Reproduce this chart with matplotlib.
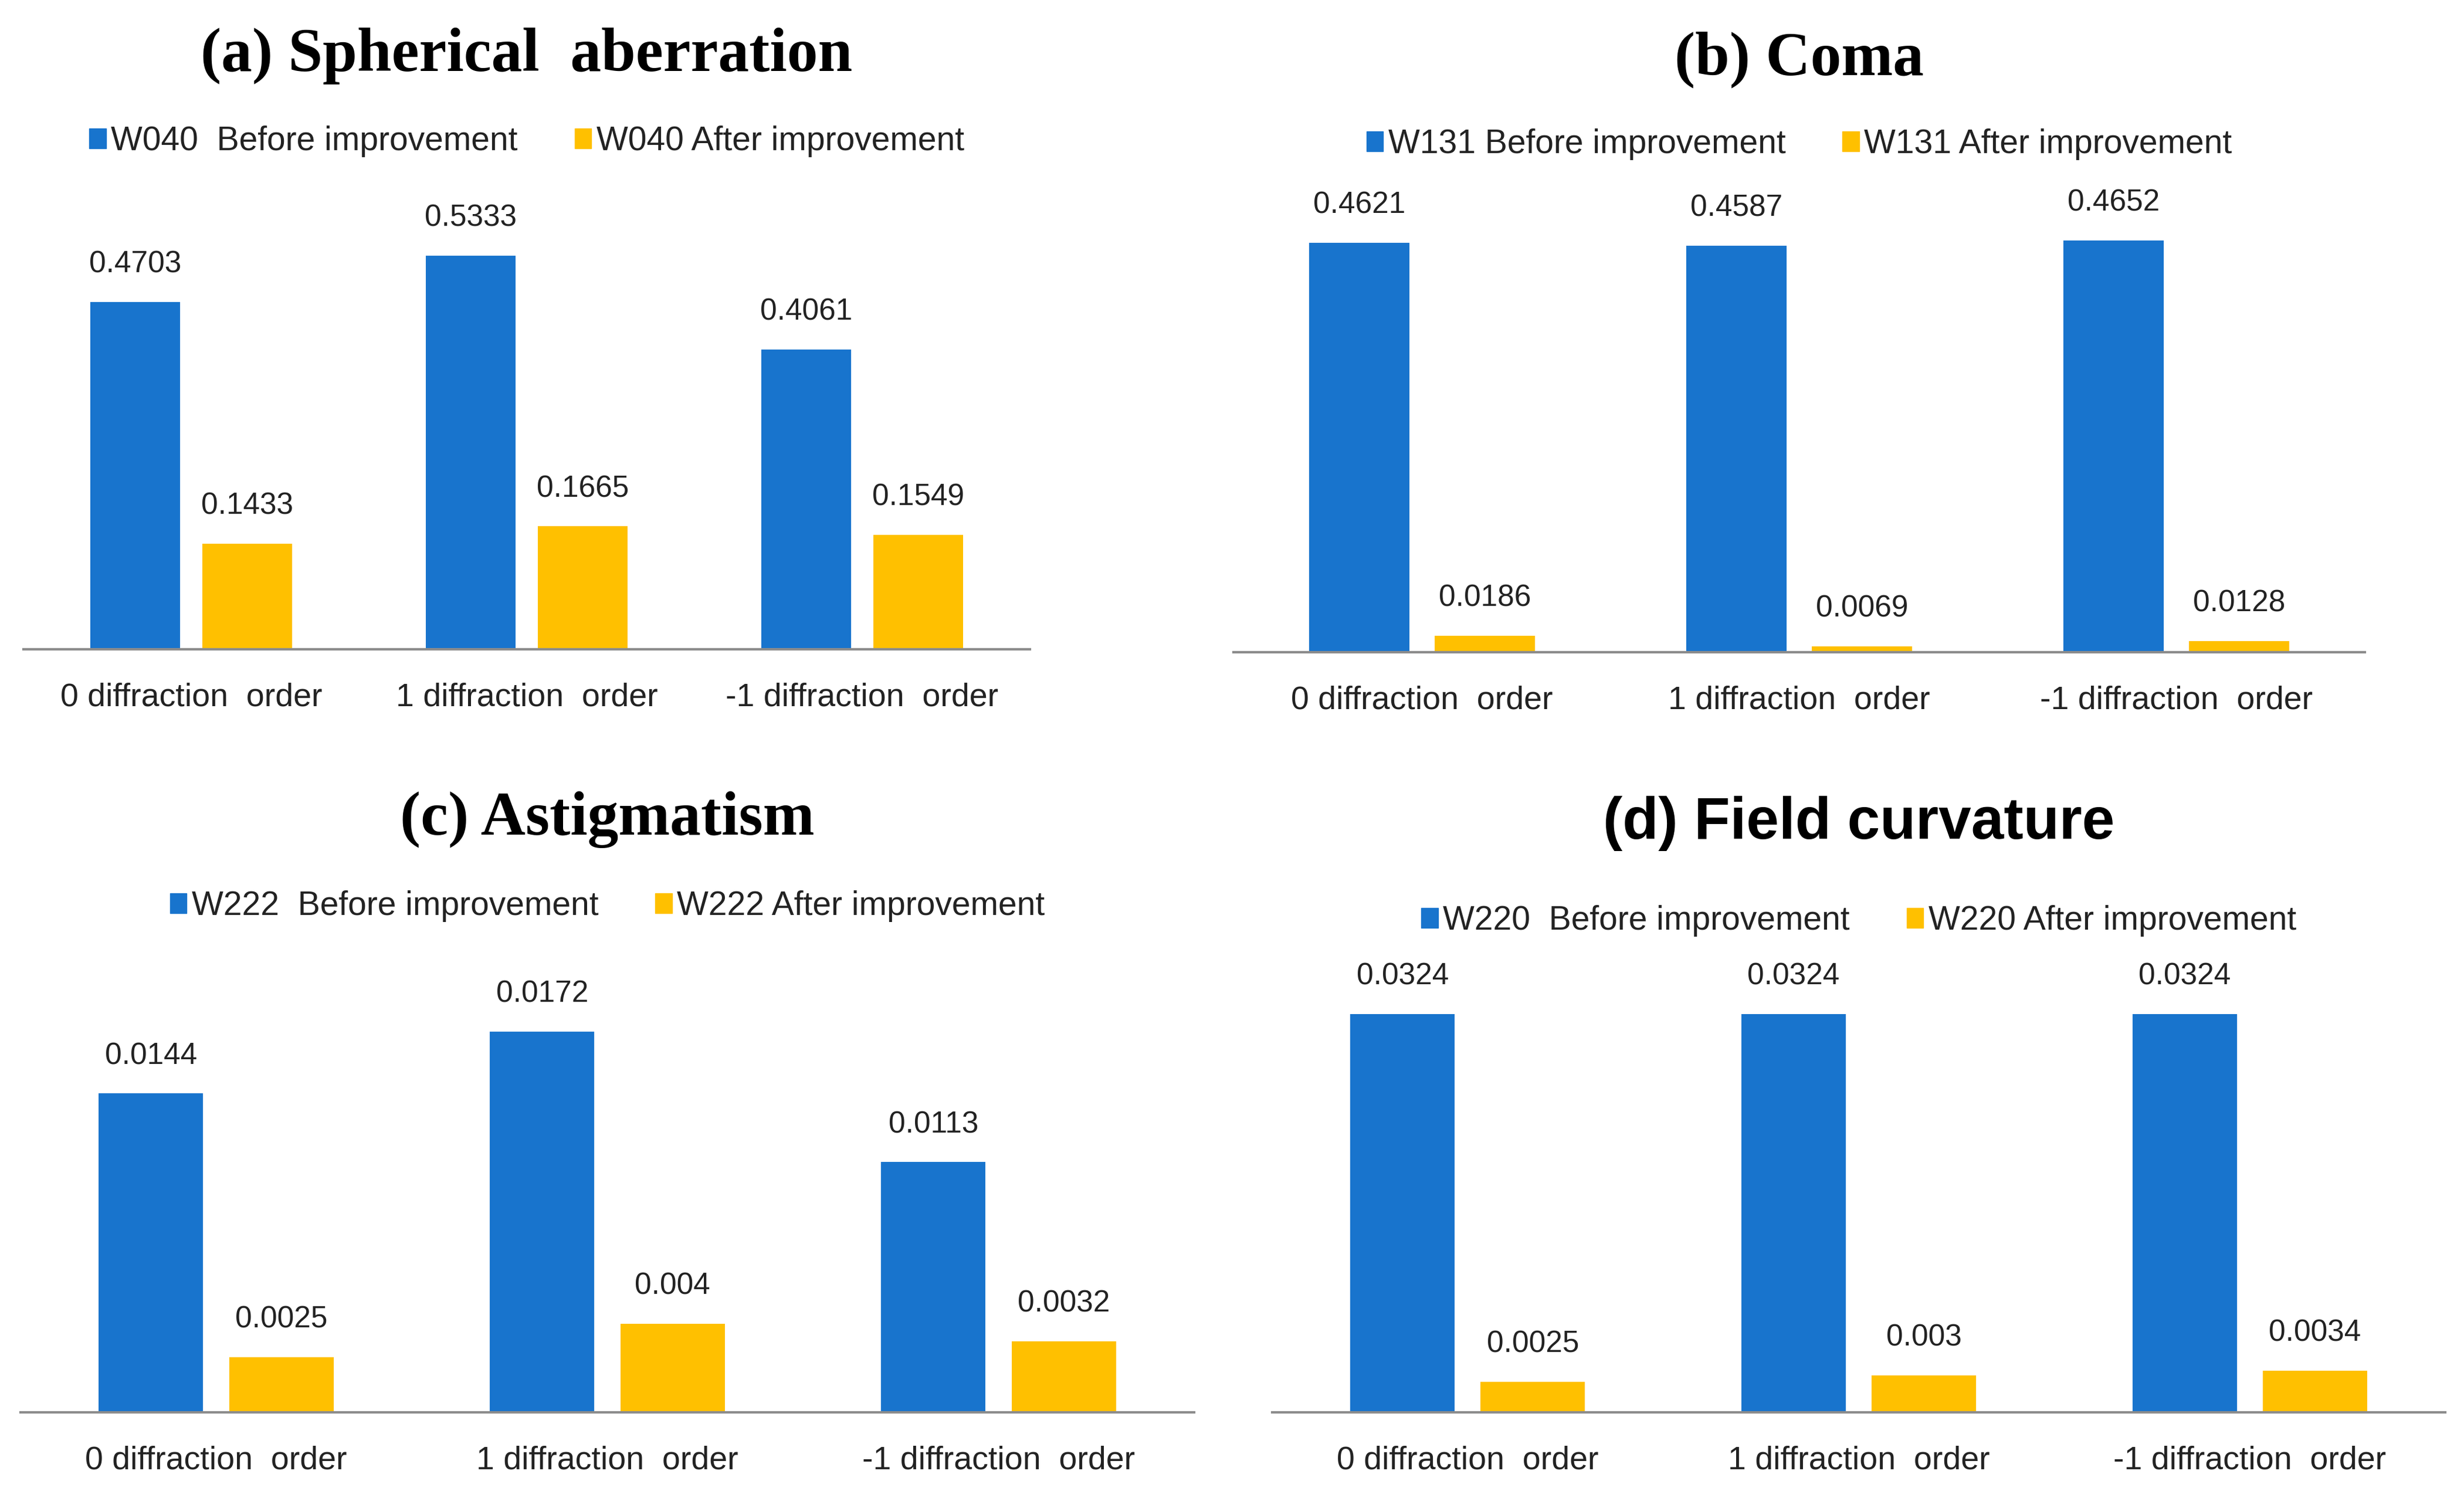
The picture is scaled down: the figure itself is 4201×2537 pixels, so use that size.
import numpy as np
import matplotlib.pyplot as plt
from matplotlib.patches import Patch

# datos de cada panel
orders = ["0 diffraction  order", "1 diffraction  order", "-1 diffraction  order"]

titles = ["(a) Spherical  aberration", "(b) Coma", "(c) Astigmatism", "(d) Field curvature"]
before_labels = ["W040  Before improvement", "W131 Before improvement",
                 "W222  Before improvement", "W220  Before improvement"]
after_labels = ["W040 After improvement", "W131 After improvement",
                "W222 After improvement", "W220 After improvement"]

sph_before = [0.4703, 0.5333, 0.4061]
sph_after = [0.1433, 0.1665, 0.1549]
coma_before = [0.4621, 0.4587, 0.4652]
coma_after = [0.0186, 0.0069, 0.0128]
ast_before = [0.0144, 0.0172, 0.0113]
ast_after = [0.0025, 0.004, 0.0032]
fc_before = [0.0324, 0.0324, 0.0324]
fc_after = [0.0025, 0.003, 0.0034]

before = [sph_before, coma_before, ast_before, fc_before]
after = [sph_after, coma_after, ast_after, fc_after]

BLUE = '#1874CD'
GOLD = '#FFC000'

W, H = 4201, 2537
fig = plt.figure(figsize=(W / 100, H / 100), dpi=100)

# limites en pixeles, ylim superior, titulo y leyenda (y en px desde arriba)
paneles = [
    dict(x0=40, x1=1756, base=1107, ytop=0.6, ty=95, ly=241, serif=True),
    dict(x0=2103, x1=4032, base=1112, ytop=0.5, ty=102, ly=246, serif=True),
    dict(x0=35, x1=2036, base=2408, ytop=0.02, ty=1398, ly=1545, serif=True),
    dict(x0=2169, x1=4169, base=2408, ytop=0.036, ty=1404, ly=1570, serif=False),
]

ancho = 0.267
sep = 0.066
x = np.arange(len(orders))

for i, p in enumerate(paneles):
    h_px = 755
    ax = fig.add_axes([p['x0'] / W, 1 - p['base'] / H, (p['x1'] - p['x0']) / W, h_px / H])
    b1 = ax.bar(x - ancho / 2 - sep / 2, before[i], ancho, color=BLUE, label=before_labels[i])
    b2 = ax.bar(x + ancho / 2 + sep / 2, after[i], ancho, color=GOLD, label=after_labels[i])
    for bars, vals in [(b1, before[i]), (b2, after[i])]:
        for r, v in zip(bars, vals):
            ax.annotate(str(v), (r.get_x() + r.get_width() / 2, v), xytext=(0, 46),
                        textcoords='offset points', ha='center', va='center',
                        fontsize=37, family='Liberation Sans', color='#222222')
    ax.set_xlim(-0.5, 2.5)
    ax.set_ylim(0, p['ytop'])
    ax.set_yticks([])
    ax.set_xticks(x)
    ax.set_xticklabels(orders, fontsize=40, family='Liberation Sans', color='#222222')
    ax.tick_params(axis='x', length=0, pad=41)
    for s in ['top', 'left', 'right']:
        ax.spines[s].set_visible(False)
    ax.spines['bottom'].set_color('#8C8C8C')
    ax.spines['bottom'].set_linewidth(3)

    cx = (p['x0'] + p['x1']) / 2 / W
    if p['serif']:
        fig.text(cx, 1 - p['ty'] / H, titles[i], ha='center', va='center',
                 fontsize=76, fontweight='bold', family='Liberation Serif')
    else:
        fig.text(cx, 1 - p['ty'] / H, titles[i], ha='center', va='center',
                 fontsize=72, fontweight='bold', family='Liberation Sans')

    handles = [Patch(color=BLUE, label=before_labels[i]), Patch(color=GOLD, label=after_labels[i])]
    leg = fig.legend(handles=handles, loc='center', ncol=2, frameon=False,
                     bbox_to_anchor=(cx, 1 - p['ly'] / H), bbox_transform=fig.transFigure,
                     prop={'family': 'Liberation Sans', 'size': 41},
                     handlelength=0.5, handleheight=0.55, handletextpad=0.15,
                     columnspacing=1.7)
    for t in leg.get_texts():
        t.set_color('#222222')

fig.savefig('out.png', dpi=100, facecolor='white')
